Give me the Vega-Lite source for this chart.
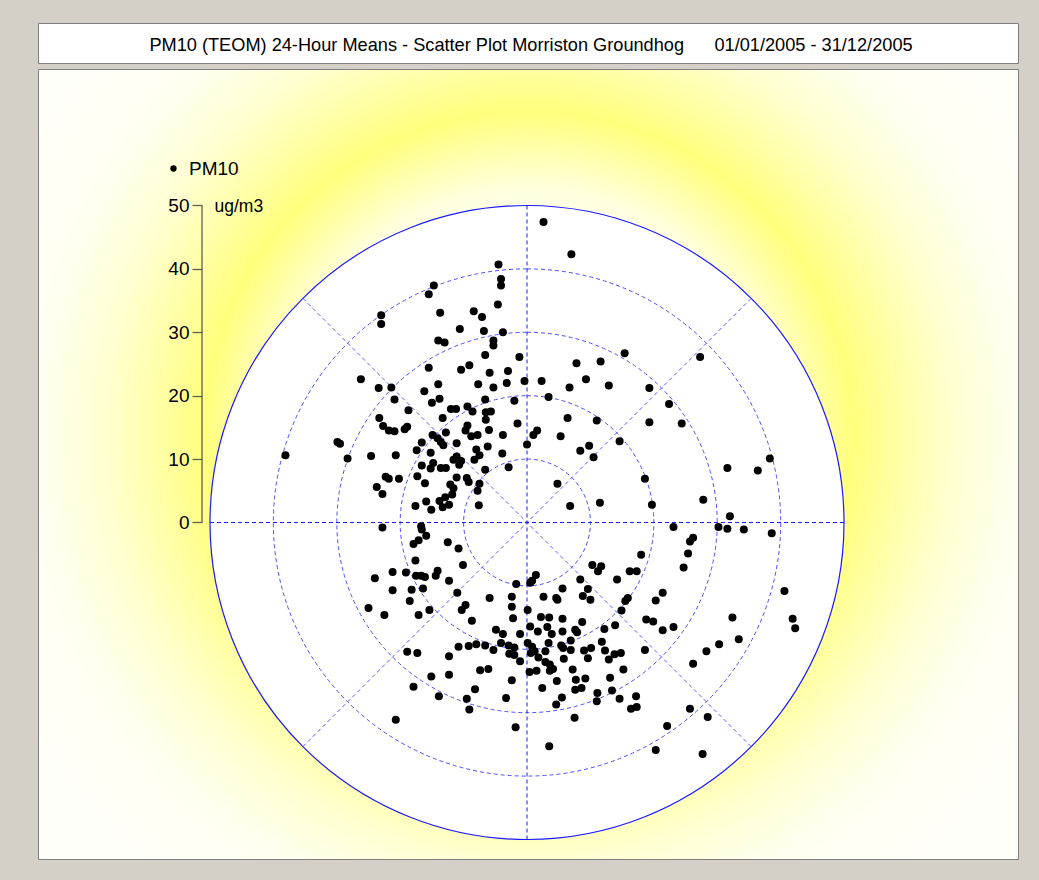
{
  "$schema": "https://vega.github.io/schema/vega-lite/v6.json",
  "background": "#d4d0c8",
  "padding": {"left": 37, "top": 22, "right": 22, "bottom": 24},
  "config": {"font": "Liberation Sans", "view": {"stroke": "#808080", "strokeWidth": 1}},
  "spacing": 4,
  "vconcat": [
    {
      "width": 980,
      "height": 40,
      "view": {"fill": "#ffffff", "stroke": "#808080"},
      "data": {"values": [{"title": "PM10 (TEOM) 24-Hour Means - Scatter Plot Morriston Groundhog\u00a0\u00a0\u00a0\u00a0\u00a0\u00a001/01/2005 - 31/12/2005"}]},
      "mark": {"type": "text", "fontSize": 18.2, "font": "Liberation Sans", "color": "#000000", "baseline": "middle", "align": "center", "dy": 3, "dx": 3},
      "encoding": {"text": {"field": "title", "type": "nominal"}}
    },
    {
      "width": 980,
      "height": 790,
      "view": {
        "stroke": "#808080",
        "fill": {
          "gradient": "radial",
          "x1": 0.5, "y1": 0.47, "r1": 0,
          "x2": 0.5, "y2": 0.47, "r2": 0.6,
          "stops": [
            {"offset": 0, "color": "#ffffff"},
            {"offset": 0.417, "color": "#ffffe0"},
            {"offset": 0.55, "color": "#ffff7c"},
            {"offset": 0.63, "color": "#ffffa6"},
            {"offset": 0.72, "color": "#ffffd0"},
            {"offset": 0.83, "color": "#fffff0"},
            {"offset": 1, "color": "#fffffa"}
          ]
        }
      },
      "layer": [
        {
          "data": {"values": [{"r": 50}]},
          "mark": {"type": "arc", "theta": 0, "theta2": 6.2832, "fill": "#ffffff", "stroke": "#1a1aff", "strokeWidth": 1.2},
          "encoding": {
            "x": {"datum": 0, "type": "quantitative", "scale": {"domain": [-77.13, 77.44], "nice": false, "zero": false}, "axis": null},
            "y": {
              "datum": 0,
              "type": "quantitative",
              "title": "ug/m3",
              "scale": {"domain": [-53.08, 71.53], "nice": false, "zero": false},
              "axis": {
                "values": [0, 10, 20, 30, 40, 50],
                "format": "d",
                "offset": -164,
                "domain": false,
                "grid": false,
                "ticks": true,
                "tickSize": 10,
                "tickColor": "#5f5f55",
                "tickWidth": 1.3,
                "labelFontSize": 19,
                "labelFont": "Liberation Sans",
                "labelColor": "#000000",
                "labelPadding": 3,
                "title": "ug/m3",
                "titleAngle": 0,
                "titleX": 12,
                "titleY": 137,
                "titleAlign": "left",
                "titleBaseline": "middle",
                "titleFontSize": 17.5,
                "titleFont": "Liberation Sans",
                "titleFontWeight": "normal",
                "titleColor": "#000000"
              }
            },
            "radius": {"field": "r", "type": "quantitative", "stack": null, "scale": {"type": "linear", "domain": [0, 50], "range": [0, 317], "zero": true}}
          }
        },
        {
          "data": {"values": [{"r": 10}, {"r": 20}, {"r": 30}, {"r": 40}]},
          "mark": {"type": "arc", "theta": 0, "theta2": 6.2832, "fill": null, "fillOpacity": 0, "stroke": "#4d4dff", "strokeWidth": 1, "strokeDash": [4, 3]},
          "encoding": {
            "x": {"datum": 0, "type": "quantitative", "axis": null},
            "y": {"datum": 0, "type": "quantitative", "title": "ug/m3"},
            "radius": {"field": "r", "type": "quantitative", "stack": null}
          }
        },
        {
          "data": {"values": [
            {"x": -35.355, "y": -35.355, "x2": 35.355, "y2": 35.355},
            {"x": -35.355, "y": 35.355, "x2": 35.355, "y2": -35.355}
          ]},
          "mark": {"type": "rule", "stroke": "#5c5cff", "strokeWidth": 1, "strokeDash": [4, 3]},
          "encoding": {
            "x": {"field": "x", "type": "quantitative", "axis": null},
            "y": {"field": "y", "type": "quantitative", "title": "ug/m3"},
            "x2": {"field": "x2"},
            "y2": {"field": "y2"}
          }
        },
        {
          "data": {"values": [
            {"x": -50, "y": 0, "x2": 50, "y2": 0},
            {"x": 0, "y": -50, "x2": 0, "y2": 50}
          ]},
          "mark": {"type": "rule", "stroke": "#1a1aff", "strokeWidth": 1, "strokeDash": [4, 3]},
          "encoding": {
            "x": {"field": "x", "type": "quantitative", "axis": null},
            "y": {"field": "y", "type": "quantitative", "title": "ug/m3"},
            "x2": {"field": "x2"},
            "y2": {"field": "y2"}
          }
        },
        {
          "data": {"values": [{"axis": "ug/m3"}]},
          "mark": {"type": "rule", "stroke": "#5f5f55", "strokeWidth": 1.3},
          "encoding": {
            "x": {"datum": -51.26, "type": "quantitative", "axis": null},
            "y": {"datum": 0, "type": "quantitative", "title": "ug/m3"},
            "y2": {"datum": 50}
          }
        },
        {
          "data": {"values": [
            {"east":-23.0,"north":32.7},{"east":-23.0,"north":31.3},{"east":-26.2,"north":22.6},{"east":-23.4,"north":21.2},{"east":-21.4,"north":21.3},
            {"east":-20.9,"north":19.4},{"east":-18.7,"north":17.7},{"east":-16.2,"north":20.7},{"east":-23.3,"north":16.5},{"east":2.6,"north":47.4},
            {"east":7.0,"north":42.3},{"east":-4.5,"north":40.7},{"east":-4.1,"north":38.4},{"east":-4.1,"north":37.4},{"east":-14.7,"north":37.4},
            {"east":-15.5,"north":36.0},{"east":-4.6,"north":34.4},{"east":-13.7,"north":33.1},{"east":-8.4,"north":33.3},{"east":-7.1,"north":32.4},
            {"east":-10.6,"north":30.5},{"east":-6.8,"north":30.2},{"east":-3.8,"north":30.0},{"east":-14.0,"north":28.7},{"east":-13.0,"north":28.4},
            {"east":-5.3,"north":28.7},{"east":-5.3,"north":27.9},{"east":15.4,"north":26.7},{"east":-6.6,"north":26.4},{"east":-1.2,"north":26.1},
            {"east":7.8,"north":25.1},{"east":11.6,"north":25.4},{"east":-15.5,"north":24.4},{"east":-9.1,"north":24.8},{"east":-10.4,"north":24.1},
            {"east":-5.9,"north":23.6},{"east":-3.0,"north":23.9},{"east":9.3,"north":22.6},{"east":12.9,"north":21.6},{"east":-14.0,"north":21.8},
            {"east":-7.7,"north":21.8},{"east":-3.2,"north":22.0},{"east":-0.4,"north":22.3},{"east":2.3,"north":22.3},{"east":-5.3,"north":21.3},
            {"east":6.7,"north":21.3},{"east":-15.0,"north":18.9},{"east":-13.8,"north":19.5},{"east":-6.6,"north":19.4},{"east":-2.0,"north":19.2},
            {"east":3.4,"north":19.8},{"east":-12.0,"north":17.9},{"east":-11.2,"north":17.9},{"east":-9.4,"north":18.3},{"east":-8.6,"north":17.5},
            {"east":-6.5,"north":17.4},{"east":-5.7,"north":17.5},{"east":-13.3,"north":16.5},{"east":6.4,"north":16.5},{"east":27.3,"north":26.1},
            {"east":19.3,"north":21.2},{"east":22.4,"north":18.7},{"east":-22.7,"north":15.2},{"east":-21.8,"north":14.5},{"east":-20.9,"north":14.4},
            {"east":-19.3,"north":14.7},{"east":-18.9,"north":15.1},{"east":-29.9,"north":12.7},{"east":-29.5,"north":12.4},{"east":-16.6,"north":12.6},
            {"east":-17.4,"north":11.4},{"east":-38.1,"north":10.6},{"east":-28.3,"north":10.1},{"east":-24.6,"north":10.5},{"east":-20.7,"north":10.6},
            {"east":-16.6,"north":9.0},{"east":-17.3,"north":7.3},{"east":-22.3,"north":7.2},{"east":-21.8,"north":6.9},{"east":-20.2,"north":6.9},
            {"east":-23.7,"north":5.6},{"east":-22.8,"north":4.5},{"east":-16.1,"north":6.2},{"east":-17.6,"north":2.6},{"east":-15.9,"north":3.3},
            {"east":-16.7,"north":-0.6},{"east":-16.6,"north":-1.1},{"east":-22.8,"north":-0.8},{"east":-15.9,"north":-2.1},{"east":-17.1,"north":-2.8},
            {"east":-17.9,"north":-3.4},{"east":-17.6,"north":-6.0},{"east":-19.1,"north":-7.9},{"east":-21.2,"north":-7.8},{"east":-17.5,"north":-8.4},
            {"east":-16.7,"north":-8.4},{"east":-16.1,"north":-8.6},{"east":-24.0,"north":-8.8},{"east":-21.2,"north":-10.7},{"east":-18.2,"north":-10.6},
            {"east":-16.4,"north":-10.4},{"east":-18.5,"north":-12.4},{"east":-25.0,"north":-13.5},{"east":-22.5,"north":-14.6},{"east":-17.1,"north":-14.6},
            {"east":-9.4,"north":15.3},{"east":-6.5,"north":16.2},{"east":-1.5,"north":15.6},{"east":11.0,"north":16.1},{"east":-6.0,"north":14.6},
            {"east":-14.9,"north":13.8},{"east":-12.8,"north":14.2},{"east":-14.1,"north":13.3},{"east":-9.7,"north":14.5},{"east":-7.8,"north":13.8},
            {"east":-8.8,"north":13.6},{"east":-3.8,"north":13.8},{"east":1.0,"north":13.8},{"east":1.6,"north":14.5},{"east":5.3,"north":13.6},
            {"east":-13.6,"north":12.7},{"east":-13.2,"north":12.2},{"east":-11.1,"north":12.5},{"east":-6.2,"north":12.0},{"east":0.0,"north":12.3},
            {"east":8.4,"north":11.3},{"east":9.8,"north":12.1},{"east":14.6,"north":12.8},{"east":-15.2,"north":11.0},{"east":-11.1,"north":10.4},
            {"east":-11.6,"north":9.9},{"east":-8.0,"north":11.5},{"east":-7.5,"north":10.6},{"east":-3.9,"north":10.9},{"east":10.5,"north":10.3},
            {"east":-14.8,"north":9.4},{"east":-15.2,"north":8.5},{"east":-13.6,"north":8.6},{"east":-12.8,"north":8.6},{"east":-10.7,"north":9.1},
            {"east":-10.4,"north":9.7},{"east":-8.3,"north":9.9},{"east":-2.9,"north":8.7},{"east":-6.6,"north":8.3},{"east":-11.1,"north":7.1},
            {"east":-9.5,"north":7.0},{"east":-9.2,"north":6.4},{"east":18.6,"north":6.9},{"east":-12.1,"north":6.0},{"east":-11.6,"north":5.4},
            {"east":-7.5,"north":6.1},{"east":-7.8,"north":5.0},{"east":4.8,"north":6.1},{"east":-11.8,"north":4.4},{"east":-12.9,"north":4.0},
            {"east":-13.8,"north":3.4},{"east":-15.1,"north":2.0},{"east":-13.3,"north":2.4},{"east":-12.3,"north":2.8},{"east":-7.6,"north":2.7},
            {"east":6.8,"north":2.6},{"east":11.5,"north":3.1},{"east":-12.5,"north":-3.1},{"east":-10.8,"north":-4.1},{"east":18.0,"north":-5.1},
            {"east":-10.1,"north":-6.7},{"east":10.3,"north":-6.7},{"east":11.7,"north":-6.9},{"east":11.2,"north":-7.7},{"east":16.2,"north":-7.7},
            {"east":17.3,"north":-7.7},{"east":-14.1,"north":-7.6},{"east":-14.4,"north":-8.4},{"east":-12.3,"north":-9.2},{"east":1.4,"north":-8.3},
            {"east":0.8,"north":-9.2},{"east":0.5,"north":-9.5},{"east":-1.7,"north":-9.7},{"east":8.4,"north":-9.0},{"east":14.2,"north":-9.0},
            {"east":-11.0,"north":-11.1},{"east":-5.9,"north":-11.9},{"east":-2.4,"north":-11.7},{"east":2.6,"north":-11.7},{"east":4.6,"north":-11.9},
            {"east":4.8,"north":-12.2},{"east":5.6,"north":-10.4},{"east":9.6,"north":-10.5},{"east":8.8,"north":-11.6},{"east":10.0,"north":-12.2},
            {"east":15.9,"north":-11.9},{"east":15.5,"north":-12.4},{"east":-15.4,"north":-13.8},{"east":-10.3,"north":-13.8},{"east":-9.7,"north":-13.0},
            {"east":-2.4,"north":-13.3},{"east":0.1,"north":-13.8},{"east":14.9,"north":-13.9},{"east":-8.7,"north":-15.5},{"east":-2.2,"north":-15.1},
            {"east":2.2,"north":-14.9},{"east":3.5,"north":-15.0},{"east":5.6,"north":-15.2},{"east":8.7,"north":-15.7},{"east":18.8,"north":-15.3},
            {"east":-4.9,"north":-16.9},{"east":-3.8,"north":-17.6},{"east":-1.1,"north":-17.6},{"east":0.5,"north":-16.4},{"east":1.7,"north":-17.2},
            {"east":3.2,"north":-16.5},{"east":3.9,"north":-17.6},{"east":5.6,"north":-17.2},{"east":7.6,"north":-16.9},{"east":7.9,"north":-17.3},
            {"east":12.2,"north":-16.8},{"east":13.9,"north":-16.2},{"east":-10.8,"north":-19.6},{"east":-9.2,"north":-19.5},{"east":-8.0,"north":-19.2},
            {"east":-6.6,"north":-19.4},{"east":-5.3,"north":-20.1},{"east":-4.1,"north":-19.0},{"east":-2.9,"north":-19.4},{"east":-2.0,"north":-19.7},
            {"east":-2.8,"north":-20.7},{"east":-2.0,"north":-20.9},{"east":0.1,"north":-19.0},{"east":0.8,"north":-19.6},{"east":1.2,"north":-20.3},
            {"east":0.6,"north":-20.6},{"east":1.8,"north":-21.3},{"east":2.9,"north":-20.3},{"east":3.4,"north":-19.0},{"east":5.4,"north":-19.4},
            {"east":5.7,"north":-19.8},{"east":6.9,"north":-20.1},{"east":6.9,"north":-18.6},{"east":9.0,"north":-20.2},{"east":10.1,"north":-19.8},
            {"east":9.6,"north":-21.4},{"east":11.8,"north":-18.8},{"east":12.3,"north":-20.2},{"east":12.9,"north":-21.6},{"east":13.8,"north":-20.8},
            {"east":14.8,"north":-20.6},{"east":18.6,"north":-20.1},{"east":15.2,"north":-23.2},{"east":-12.3,"north":-21.1},{"east":-1.1,"north":-21.9},
            {"east":2.9,"north":-22.0},{"east":3.6,"north":-22.4},{"east":4.1,"north":-23.1},{"east":3.6,"north":-23.4},{"east":5.8,"north":-21.5},
            {"east":7.2,"north":-23.2},{"east":-15.1,"north":-24.3},{"east":-12.3,"north":-24.0},{"east":-7.4,"north":-23.3},{"east":-6.1,"north":-23.1},
            {"east":0.4,"north":-23.6},{"east":1.5,"north":-23.4},{"east":-2.4,"north":-24.9},{"east":4.7,"north":-25.0},{"east":7.7,"north":-24.8},
            {"east":9.2,"north":-24.6},{"east":13.1,"north":-24.5},{"east":-8.2,"north":-26.3},{"east":2.4,"north":-26.1},{"east":7.6,"north":-26.4},
            {"east":8.6,"north":-26.1},{"east":13.4,"north":-26.5},{"east":11.1,"north":-26.9},{"east":-13.9,"north":-27.4},{"east":-9.5,"north":-27.8},
            {"east":-3.3,"north":-27.7},{"east":5.5,"north":-27.6},{"east":14.6,"north":-27.8},{"east":17.2,"north":-27.4},{"east":11.0,"north":-28.2},
            {"east":-9.1,"north":-29.5},{"east":4.6,"north":-28.7},{"east":16.4,"north":-29.4},{"east":17.3,"north":-29.1},{"east":7.5,"north":-30.8},
            {"east":-1.8,"north":-32.3},{"east":3.5,"north":-35.3},{"east":19.3,"north":15.8},{"east":24.4,"north":15.6},{"east":38.3,"north":10.1},
            {"east":31.6,"north":8.6},{"east":36.4,"north":8.2},{"east":27.8,"north":3.6},{"east":19.7,"north":2.8},{"east":32.0,"north":1.0},
            {"east":23.1,"north":-0.7},{"east":30.2,"north":-0.7},{"east":31.6,"north":-1.0},{"east":34.2,"north":-1.1},{"east":38.6,"north":-1.7},
            {"east":26.2,"north":-2.4},{"east":25.7,"north":-3.0},{"east":25.4,"north":-4.9},{"east":24.7,"north":-7.1},{"east":21.4,"north":-11.1},
            {"east":20.3,"north":-12.3},{"east":40.6,"north":-10.8},{"east":19.9,"north":-15.6},{"east":21.4,"north":-17.0},{"east":23.1,"north":-16.5},
            {"east":32.4,"north":-15.0},{"east":41.9,"north":-15.2},{"east":42.3,"north":-16.7},{"east":33.4,"north":-18.4},{"east":28.3,"north":-20.3},
            {"east":30.3,"north":-19.2},{"east":26.2,"north":-22.3},{"east":25.7,"north":-29.4},{"east":28.5,"north":-30.7},{"east":22.1,"north":-32.1},
            {"east":20.3,"north":-35.9},{"east":27.7,"north":-36.5},{"east":-18.9,"north":-20.4},{"east":-17.3,"north":-20.6},{"east":-17.9,"north":-25.9},
            {"east":-20.7,"north":-31.1}
          ]},
          "mark": {"type": "point", "filled": true, "size": 64, "opacity": 1, "strokeWidth": 0},
          "encoding": {
            "x": {"field": "east", "type": "quantitative", "axis": null},
            "y": {"field": "north", "type": "quantitative", "title": "ug/m3"},
            "color": {
              "datum": "PM10",
              "type": "nominal",
              "scale": {"range": ["#000000"]},
              "legend": {
                "orient": "none",
                "legendX": 126,
                "legendY": 136,
                "title": null,
                "symbolType": "circle",
                "symbolSize": 40,
                "symbolStrokeWidth": 0,
                "labelFontSize": 19,
                "labelFont": "Liberation Sans",
                "labelColor": "#000000",
                "labelOffset": 6,
                "padding": 0
              }
            }
          }
        }
      ]
    }
  ]
}
